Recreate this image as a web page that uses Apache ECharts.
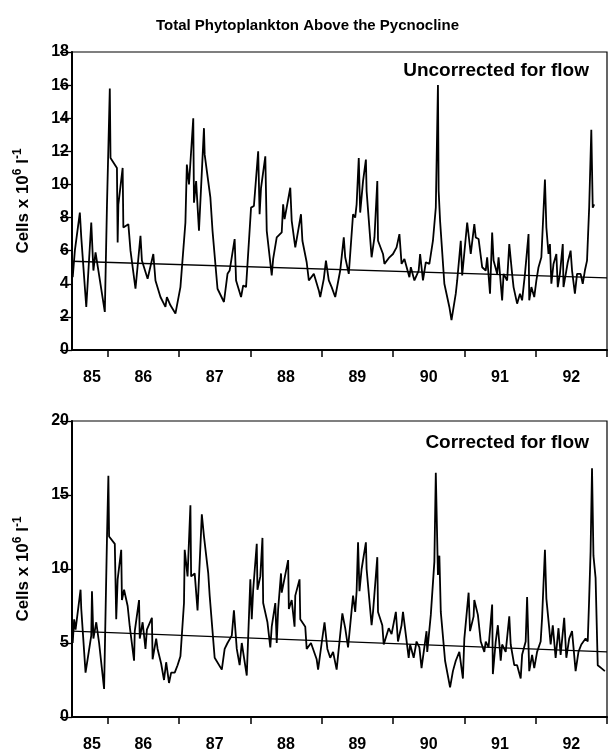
<!DOCTYPE html>
<html>
<head>
<meta charset="utf-8">
<script src="https://cdn.jsdelivr.net/npm/echarts@6/dist/echarts.min.js"></script>
<style>
  html, body { margin: 0; padding: 0; background: #fff; }
  #chart { width: 615px; height: 756px; }
</style>
</head>
<body>
<div id="chart"></div>
<script>
// sample dates (decimal year, 85 = 1985) and cell counts
const topYears = [
  85.51, 85.54, 85.61, 85.63, 85.70, 85.77, 85.80, 85.83, 85.87, 85.96,
  85.99, 86.03, 86.04, 86.13, 86.14, 86.15, 86.21, 86.22, 86.29, 86.32,
  86.39, 86.46, 86.48, 86.56, 86.64, 86.67, 86.74, 86.81, 86.83, 86.88,
  86.95, 87.02, 87.09, 87.11, 87.14, 87.20, 87.21, 87.24, 87.28, 87.35,
  87.36, 87.44, 87.47, 87.54, 87.63, 87.68, 87.71, 87.78, 87.80, 87.87,
  87.90, 87.94, 88.01, 88.05, 88.11, 88.13, 88.15, 88.21, 88.23, 88.30,
  88.32, 88.37, 88.39, 88.44, 88.46, 88.48, 88.56, 88.58, 88.63, 88.67,
  88.71, 88.73, 88.79, 88.82, 88.89, 88.96, 88.98, 89.03, 89.06, 89.10,
  89.14, 89.19, 89.26, 89.31, 89.33, 89.38, 89.44, 89.47, 89.49, 89.52,
  89.54, 89.58, 89.62, 89.63, 89.70, 89.74, 89.78, 89.79, 89.86, 89.88,
  89.95, 90.00, 90.05, 90.09, 90.12, 90.16, 90.23, 90.25, 90.30, 90.36,
  90.38, 90.42, 90.46, 90.51, 90.56, 90.60, 90.63, 90.64, 90.66, 90.72,
  90.79, 90.82, 90.88, 90.90, 90.95, 90.97, 91.04, 91.09, 91.14, 91.16,
  91.20, 91.25, 91.30, 91.32, 91.36, 91.39, 91.41, 91.46, 91.48, 91.53,
  91.55, 91.60, 91.63, 91.67, 91.69, 91.74, 91.78, 91.81, 91.85, 91.90,
  91.91, 91.94, 91.98, 92.01, 92.04, 92.08, 92.13, 92.15, 92.18, 92.20,
  92.22, 92.25, 92.29, 92.31, 92.34, 92.38, 92.39, 92.43, 92.45, 92.49,
  92.51, 92.55, 92.58, 92.63, 92.66, 92.69, 92.72, 92.75, 92.78, 92.80,
  92.82
]
const topCells = [
  4.4, 6.0, 8.3, 6.8, 2.6, 7.7, 4.8, 5.9, 4.8, 2.3,
  8.7, 15.8, 11.6, 11.0, 6.5, 8.8, 11.0, 7.4, 7.6, 6.0,
  3.7, 6.9, 5.4, 4.3, 5.8, 4.2, 3.2, 2.6, 3.2, 2.7,
  2.2, 3.8, 7.7, 11.2, 10.0, 14.0, 8.9, 10.2, 7.2, 13.4,
  11.8, 9.2, 7.2, 3.7, 2.9, 4.6, 4.8, 6.7, 4.2, 3.2,
  3.9, 3.8, 8.6, 8.7, 12.0, 8.2, 9.8, 11.7, 7.2, 4.5,
  5.5, 6.8, 6.9, 7.1, 8.8, 7.9, 9.8, 7.8, 6.2, 7.2,
  8.2, 6.6, 5.3, 4.2, 4.6, 3.6, 3.2, 4.3, 5.4, 4.2,
  3.8, 3.2, 4.8, 6.8, 5.6, 4.6, 8.2, 8.0, 8.8, 11.6,
  8.3, 10.2, 11.5, 9.6, 5.6, 6.8, 10.2, 6.6, 5.8, 5.2,
  5.6, 5.8, 6.2, 7.0, 5.2, 5.5, 4.4, 5.0, 4.2, 4.8,
  5.8, 4.2, 5.3, 5.2, 6.6, 8.6, 16.0, 9.6, 7.8, 4.0,
  2.6, 1.8, 3.4, 4.2, 6.6, 4.5, 7.7, 5.8, 7.6, 6.8,
  6.7, 5.0, 4.8, 5.6, 3.4, 7.1, 5.4, 4.6, 5.6, 3.0,
  4.6, 4.2, 6.4, 4.6, 3.8, 2.8, 3.4, 3.0, 4.6, 7.0,
  3.0, 3.8, 3.2, 4.2, 5.0, 5.6, 10.3, 7.4, 5.8, 6.4,
  4.0, 5.2, 5.8, 3.8, 4.6, 6.4, 3.8, 4.8, 5.3, 6.0,
  4.8, 3.4, 4.6, 4.6, 4.0, 4.8, 5.4, 8.6, 13.3, 8.6,
  8.8
]
const botYears = [
  85.51, 85.53, 85.55, 85.62, 85.63, 85.69, 85.77, 85.78, 85.80, 85.84,
  85.88, 85.95, 85.99, 86.01, 86.02, 86.10, 86.12, 86.14, 86.19, 86.20,
  86.23, 86.28, 86.31, 86.37, 86.38, 86.44, 86.45, 86.49, 86.53, 86.55,
  86.62, 86.63, 86.68, 86.70, 86.75, 86.79, 86.82, 86.86, 86.89, 86.94,
  86.98, 87.02, 87.07, 87.08, 87.12, 87.16, 87.17, 87.22, 87.26, 87.32,
  87.35, 87.41, 87.43, 87.50, 87.60, 87.64, 87.68, 87.74, 87.77, 87.81,
  87.85, 87.88, 87.95, 88.00, 88.02, 88.04, 88.09, 88.10, 88.14, 88.17,
  88.18, 88.24, 88.28, 88.30, 88.35, 88.37, 88.39, 88.43, 88.44, 88.53,
  88.54, 88.58, 88.62, 88.63, 88.69, 88.70, 88.77, 88.79, 88.85, 88.93,
  88.95, 89.00, 89.04, 89.08, 89.12, 89.16, 89.21, 89.29, 89.33, 89.37,
  89.44, 89.47, 89.49, 89.51, 89.53, 89.56, 89.62, 89.63, 89.70, 89.72,
  89.78, 89.79, 89.85, 89.87, 89.94, 89.98, 90.04, 90.07, 90.12, 90.14,
  90.22, 90.24, 90.29, 90.33, 90.37, 90.40, 90.47, 90.48, 90.53, 90.58,
  90.60, 90.63, 90.65, 90.67, 90.73, 90.80, 90.84, 90.88, 90.93, 90.98,
  91.00, 91.06, 91.08, 91.13, 91.14, 91.19, 91.23, 91.28, 91.30, 91.34,
  91.39, 91.40, 91.44, 91.47, 91.51, 91.53, 91.58, 91.63, 91.65, 91.70,
  91.74, 91.79, 91.81, 91.86, 91.88, 91.91, 91.95, 91.98, 92.02, 92.07,
  92.09, 92.13, 92.15, 92.19, 92.21, 92.24, 92.28, 92.32, 92.35, 92.40,
  92.43, 92.47, 92.51, 92.56, 92.60, 92.64, 92.70, 92.73, 92.75, 92.77,
  92.79, 92.81, 92.84, 92.87, 92.92, 92.97
]
const botCells = [
  5.0, 6.6, 5.9, 8.6, 7.3, 3.0, 5.5, 8.5, 5.3, 6.4,
  5.0, 1.9, 12.0, 16.3, 12.2, 11.7, 6.6, 9.3, 11.3, 7.9,
  8.6, 7.5, 6.1, 3.8, 5.8, 7.9, 5.3, 6.4, 4.6, 5.9,
  6.7, 3.9, 5.3, 4.6, 3.6, 2.5, 3.7, 2.3, 3.0, 3.0,
  3.5, 4.1, 7.7, 11.3, 9.5, 14.3, 9.5, 9.7, 7.2, 13.7,
  12.2, 9.7, 8.2, 4.0, 3.2, 4.6, 5.0, 5.5, 7.2, 4.6,
  3.5, 5.0, 2.8, 9.3, 6.6, 8.6, 11.7, 8.6, 9.5, 12.1,
  7.7, 6.4, 4.7, 6.1, 7.7, 5.0, 7.3, 9.7, 8.4, 10.6,
  7.3, 7.9, 6.1, 8.2, 9.3, 6.6, 6.1, 4.6, 5.0, 3.9,
  3.2, 5.0, 6.4, 4.6, 4.0, 4.4, 3.2, 7.0, 6.0, 4.7,
  8.2, 7.1, 8.5, 11.8, 8.5, 10.0, 11.8, 10.0, 6.2, 7.1,
  10.8, 7.1, 6.2, 4.9, 6.0, 5.6, 7.1, 5.1, 6.2, 7.1,
  4.0, 4.9, 4.0, 5.1, 4.7, 3.3, 5.8, 4.4, 6.9, 10.5,
  16.5, 9.6, 10.9, 7.1, 3.8, 2.0, 3.1, 3.8, 4.4, 2.6,
  5.3, 8.4, 5.8, 6.8, 7.9, 6.9, 5.1, 4.4, 5.1, 4.7,
  7.6, 2.9, 5.1, 6.2, 3.8, 4.9, 4.4, 6.8, 4.9, 3.5,
  3.5, 2.6, 4.2, 5.1, 8.1, 3.1, 4.2, 3.3, 4.4, 5.1,
  6.7, 11.3, 8.0, 6.0, 4.9, 6.2, 4.0, 6.0, 4.2, 6.7,
  4.0, 5.3, 5.8, 3.1, 4.4, 4.9, 5.3, 5.1, 8.0, 11.2,
  16.8, 10.9, 9.4, 3.5, 3.3, 3.1
]
// regression lines: ends of the record
const trendYears = [85.5, 93]
const topTrend = [5.36, 4.36]
const botTrend = [5.8, 4.4]

const yearTicks = [86, 87, 88, 89, 90, 91, 92, 93]
const yearLabelAt = [85.78, 86.5, 87.5, 88.5, 89.5, 90.5, 91.5, 92.5]

const font = 'Liberation Sans, Arial, Helvetica, sans-serif'
const zip = (xs, ys) => xs.map((x, i) => [x, ys[i]])

const xAxisFor = (gridIndex) => ({
  type: 'value',
  gridIndex: gridIndex,
  min: 85.5,
  max: 93,
  splitLine: { show: false },
  axisLine: { onZero: false, lineStyle: { color: '#000', width: 2 } },
  axisTick: {
    customValues: yearTicks,
    length: 7,
    lineStyle: { color: '#000', width: 1.5 },
  },
  axisLabel: {
    customValues: yearLabelAt,
    formatter: (v) => String(Math.floor(v)),
    color: '#000',
    fontFamily: font,
    fontWeight: 'bold',
    fontSize: 16,
    margin: 20,
  },
})

const yAxisFor = (gridIndex, max, interval) => ({
  type: 'value',
  gridIndex: gridIndex,
  min: 0,
  max: max,
  interval: interval,
  splitLine: { show: false },
  axisLine: { show: true, lineStyle: { color: '#000', width: 2 } },
  axisTick: { show: true, length: 12, lineStyle: { color: '#000', width: 1.3 } },
  axisLabel: {
    color: '#000',
    fontFamily: font,
    fontWeight: 'bold',
    fontSize: 16,
    margin: 3,
  },
  name: 'Cells x 10{sup|6} l{sup|-1}',
  nameLocation: 'middle',
  nameRotate: 90,
  nameGap: 37,
  nameTextStyle: {
    color: '#000',
    fontFamily: font,
    fontWeight: 'bold',
    fontSize: 17,
    rich: {
      sup: {
        fontFamily: font,
        fontWeight: 'bold',
        fontSize: 12,
        color: '#000',
        padding: [0, 0, 11, 0],
      },
    },
  },
})

const chart = echarts.init(document.getElementById('chart'), null, { renderer: 'canvas' })
const option = {
  animation: false,
  backgroundColor: '#fff',
  title: [
    {
      text: 'Total Phytoplankton Above the Pycnocline',
      left: 'center',
      top: 13,
      textStyle: { fontFamily: font, fontWeight: 'bold', fontSize: 15, color: '#000' },
    },
    {
      text: 'Uncorrected for flow',
      right: 21,
      top: 56,
      textStyle: { fontFamily: font, fontWeight: 'bold', fontSize: 19, color: '#000' },
    },
    {
      text: 'Corrected for flow',
      right: 21,
      top: 428,
      textStyle: { fontFamily: font, fontWeight: 'bold', fontSize: 19, color: '#000' },
    },
  ],
  grid: [
    { left: 72, right: 8, top: 52, height: 298, show: true, borderColor: '#000', borderWidth: 1.2 },
    { left: 72, right: 8, top: 421, height: 296, show: true, borderColor: '#000', borderWidth: 1.2 },
  ],
  xAxis: [xAxisFor(0), xAxisFor(1)],
  yAxis: [yAxisFor(0, 18, 2), yAxisFor(1, 20, 5)],
  series: [
    {
      name: 'Uncorrected',
      type: 'line',
      xAxisIndex: 0,
      yAxisIndex: 0,
      data: zip(topYears, topCells),
      symbol: 'none',
      lineStyle: { color: '#000', width: 1.8 },
    },
    {
      name: 'Uncorrected trend',
      type: 'line',
      xAxisIndex: 0,
      yAxisIndex: 0,
      data: zip(trendYears, topTrend),
      symbol: 'none',
      lineStyle: { color: '#000', width: 1.3 },
    },
    {
      name: 'Corrected',
      type: 'line',
      xAxisIndex: 1,
      yAxisIndex: 1,
      data: zip(botYears, botCells),
      symbol: 'none',
      lineStyle: { color: '#000', width: 1.8 },
    },
    {
      name: 'Corrected trend',
      type: 'line',
      xAxisIndex: 1,
      yAxisIndex: 1,
      data: zip(trendYears, botTrend),
      symbol: 'none',
      lineStyle: { color: '#000', width: 1.3 },
    },
  ],
}
chart.setOption(option)
</script>
</body>
</html>
